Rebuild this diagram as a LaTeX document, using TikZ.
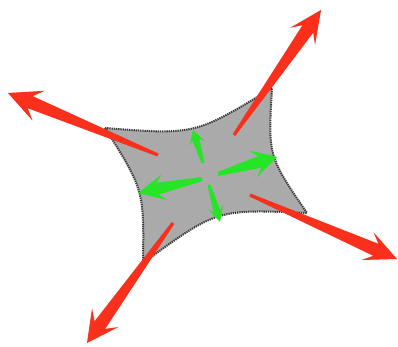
\documentclass[tikz,border=0pt]{standalone}
\usetikzlibrary{calc}
\definecolor{arrred}{RGB}{250,48,28}
\definecolor{arrgreen}{RGB}{38,228,38}
\definecolor{sheetfill}{RGB}{170,170,170}
\definecolor{sheetedge}{RGB}{55,55,55}
\tikzset{
  redarrow/.style={fill=arrred},
  greenarrow/.style={fill=arrgreen},
  shadowarrow/.style={fill=black,opacity=0.18},
  sheet/.style={fill=sheetfill,draw=sheetedge,line width=2pt,dash pattern=on 1.3pt off 0.9pt}
}
% #1 tail, #2 tip, #3 tail half width, #4 shaft half width at junction,
% #5 head length, #6 head half width, #7 junction distance from tip, #8 style
\newcommand\fatarrow[8]{%
  \path ($(#2)!#5!(#1)$) coordinate (hb) ($(#2)!#7!(#1)$) coordinate (hj);
  \fill[#8] ($(#1)!#3!90:(#2)$) -- ($(hj)!#4!90:(#2)$) -- ($(hb)!#6!90:(#2)$)
    -- (#2) -- ($(hb)!#6!-90:(#2)$) -- ($(hj)!#4!-90:(#2)$)
    -- ($(#1)!#3!-90:(#2)$) -- cycle;
}
\begin{document}
\begin{tikzpicture}[x=1pt,y=-1pt]
\useasboundingbox (0,0) rectangle (398,346);
% sheet corners
\coordinate (tl) at (105,128);
\coordinate (tr) at (272,88);
\coordinate (br) at (307,213);
\coordinate (bl) at (143,263);
\coordinate (ct) at (195,135);
\coordinate (cr) at (268,156);
\coordinate (cb) at (217,209);
\coordinate (cl) at (144,190);
\path[sheet] (tl) .. controls (ct) .. (tr) .. controls (cr) .. (br)
  .. controls (cb) .. (bl) .. controls (cl) .. (tl) -- cycle;
% red arrows
\coordinate (r1t) at (158,155); \coordinate (r1h) at (8,93);
\coordinate (r2t) at (234,135); \coordinate (r2h) at (321,10);
\coordinate (r3t) at (250,195); \coordinate (r3h) at (397,259);
\coordinate (r4t) at (173,223); \coordinate (r4h) at (87,343);
\begin{scope}[shift={(1.5,2)}]
\fatarrow{r1t}{r1h}{1.5pt}{6.5pt}{33pt}{16pt}{24pt}{shadowarrow}
\fatarrow{r2t}{r2h}{1.5pt}{6.5pt}{32pt}{15pt}{23pt}{shadowarrow}
\fatarrow{r3t}{r3h}{1.5pt}{6.5pt}{32pt}{15pt}{23pt}{shadowarrow}
\fatarrow{r4t}{r4h}{1.5pt}{6.5pt}{31pt}{16pt}{22pt}{shadowarrow}
\end{scope}
\fatarrow{r1t}{r1h}{1.5pt}{6.5pt}{33pt}{16pt}{24pt}{redarrow}
\fatarrow{r2t}{r2h}{1.5pt}{6.5pt}{32pt}{15pt}{23pt}{redarrow}
\fatarrow{r3t}{r3h}{1.5pt}{6.5pt}{32pt}{15pt}{23pt}{redarrow}
\fatarrow{r4t}{r4h}{1.5pt}{6.5pt}{31pt}{16pt}{22pt}{redarrow}
% green arrows
\coordinate (g1t) at (203,163); \coordinate (g1h) at (193,130);
\coordinate (g2t) at (218,174); \coordinate (g2h) at (277,157);
\coordinate (g3t) at (202,179); \coordinate (g3h) at (138,193);
\coordinate (g4t) at (209,185); \coordinate (g4h) at (220,222);
\fatarrow{g1t}{g1h}{1.5pt}{3.5pt}{14pt}{8pt}{10pt}{greenarrow}
\fatarrow{g2t}{g2h}{2pt}{6pt}{25pt}{14pt}{18pt}{greenarrow}
\fatarrow{g3t}{g3h}{2pt}{6pt}{27pt}{13pt}{20pt}{greenarrow}
\fatarrow{g4t}{g4h}{1.5pt}{3.5pt}{16pt}{8pt}{11pt}{greenarrow}
\end{tikzpicture}
\end{document}
